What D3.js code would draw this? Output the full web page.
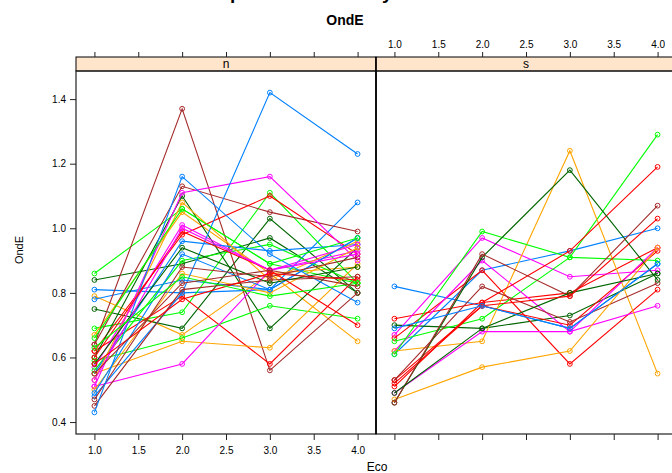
<!DOCTYPE html>
<html>
<head>
<meta charset="utf-8">
<script src="https://cdn.jsdelivr.net/npm/d3@7"></script>
<style>
  body { margin: 0; background: #fff; }
  text { font-family: "Liberation Sans", Arial, sans-serif; }
</style>
</head>
<body>
<div id="chart"></div>
<script>
// Eco levels on the x axis
const eco = [1, 2, 3, 4];
const panels = ["n", "s"];

// lattice superpose colours
const groupColors = ["#0080ff", "#ff00ff", "#006400", "#ff0000", "#ffa500", "#00ff00", "#a52a2a"];

// panel "n": one row per subject, colour index then OndE at Eco 1..4
const seriesN = [
    [5, [0.86, 1.06, 0.89, 0.83]],
    [2, [0.84, 0.89, 0.97, 0.80]],
    [0, [0.81, 0.80, 0.81, 1.08]],
    [4, [0.79, 0.67, 0.86, 0.88]],
    [0, [0.78, 0.84, 0.81, 0.97]],
    [2, [0.75, 0.69, 1.03, 0.80]],
    [5, [0.69, 0.74, 1.11, 0.83]],
    [4, [0.67, 1.05, 0.86, 0.65]],
    [6, [0.64, 1.37, 0.56, 0.80]],
    [6, [0.64, 1.13, 1.05, 0.99]],
    [3, [0.62, 0.98, 1.10, 0.92]],
    [3, [0.62, 0.79, 0.58, 0.85]],
    [2, [0.60, 1.10, 0.69, 0.94]],
    [5, [0.59, 0.66, 0.76, 0.72]],
    [1, [0.57, 1.01, 0.87, 0.93]],
    [5, [0.56, 0.90, 0.95, 0.83]],
    [0, [0.55, 0.96, 0.93, 0.95]],
    [4, [0.55, 0.65, 0.63, 0.89]],
    [4, [0.53, 1.08, 0.84, 0.96]],
    [1, [0.51, 1.11, 1.16, 0.90]],
    [1, [0.51, 0.58, 0.87, 0.95]],
    [4, [0.50, 0.86, 0.80, 0.94]],
    [0, [0.49, 0.92, 0.81, 0.97]],
    [0, [0.48, 0.80, 1.42, 1.23]],
    [6, [0.47, 0.88, 0.85, 0.91]],
    [6, [0.45, 0.81, 0.84, 0.85]],
    [0, [0.43, 1.16, 0.92, 0.77]],
    [3, [0.60, 0.99, 0.87, 0.70]],
    [5, [0.66, 1.06, 0.89, 0.97]],
    [2, [0.58, 0.94, 0.83, 0.88]],
    [1, [0.53, 1.00, 0.87, 0.92]],
    [3, [0.58, 0.78, 0.86, 0.84]],
    [5, [0.63, 0.85, 0.79, 0.83]],
    [6, [0.55, 0.83, 0.87, 0.82]]
];

// panel "s"
const seriesS = [
    [0, [0.82, 0.76, 0.69, 0.89]],
    [0, [0.61, 0.87, 0.93, 1.00]],
    [3, [0.72, 0.77, 0.80, 0.94]],
    [2, [0.70, 0.69, 0.73, 0.86]],
    [1, [0.67, 0.97, 0.85, 0.87]],
    [3, [0.66, 0.87, 0.58, 0.81]],
    [5, [0.65, 0.72, 0.91, 1.29]],
    [1, [0.62, 0.90, 0.68, 0.76]],
    [4, [0.62, 0.65, 1.24, 0.55]],
    [5, [0.61, 0.99, 0.91, 0.90]],
    [3, [0.53, 0.76, 0.70, 0.93]],
    [6, [0.53, 0.82, 0.71, 0.83]],
    [3, [0.51, 0.77, 0.93, 1.19]],
    [1, [0.49, 0.68, 0.68, 0.94]],
    [4, [0.47, 0.57, 0.62, 0.94]],
    [2, [0.46, 0.91, 1.18, 0.84]],
    [6, [0.46, 0.92, 0.79, 1.07]],
    [2, [0.49, 0.69, 0.80, 0.86]],
    [3, [0.52, 0.76, 0.79, 1.03]],
    [0, [0.69, 0.76, 0.69, 0.89]]
];

const xTicks = [1.0, 1.5, 2.0, 2.5, 3.0, 3.5, 4.0];
const yTicks = [0.4, 0.6, 0.8, 1.0, 1.2, 1.4];

const width = 672, height = 473;
const panelW = 300, panelTop = 71, panelBottom = 434, stripH = 14;
const panelLeft = [76, 376];

const svg = d3.select('#chart').append('svg')
    .attr('width', width).attr('height', height);

const x = d3.scaleLinear().domain([0.79, 4.21]).range([0, panelW]);
const y = d3.scaleLinear().domain([0.363, 1.487]).range([panelBottom, panelTop]);
const fmt = d3.format('.1f');

// main title sits above the page, only its descenders peek in
svg.append('text')
    .attr('x', 156).attr('y', -1)
    .attr('text-anchor', 'start')
    .style('font-size', '19px').style('font-weight', 'bold')
    .text('Perfiles por nivel de Eco y Sexo');

svg.append('text')
    .attr('x', 345).attr('y', 25)
    .attr('text-anchor', 'middle')
    .style('font-size', '14px').style('font-weight', 'bold')
    .text('OndE');

const data = [seriesN, seriesS];

panels.forEach((p, i) => {
    const g = svg.append('g').attr('transform', `translate(${panelLeft[i]},0)`);

    // strip
    g.append('rect')
        .attr('x', 0).attr('y', panelTop - stripH)
        .attr('width', panelW).attr('height', stripH)
        .attr('fill', '#ffe5cc').attr('stroke', '#000').attr('stroke-width', 1);
    g.append('text')
        .attr('x', panelW / 2).attr('y', panelTop - 3)
        .attr('text-anchor', 'middle')
        .style('font-size', '12px')
        .text(p);

    // subject lines
    const plot = g.append('g').attr('class', 'plot-chart');
    const line = d3.line().x((d, k) => x(eco[k])).y(d => y(d));
    data[i].forEach(([c, vals]) => {
        const col = groupColors[c];
        plot.append('path')
            .attr('d', line(vals))
            .attr('fill', 'none').attr('stroke', col).attr('stroke-width', 1.1);
        plot.selectAll(null)
            .data(vals)
            .join('circle')
            .attr('cx', (d, k) => x(eco[k]))
            .attr('cy', d => y(d))
            .attr('r', 2.4)
            .attr('fill', 'none').attr('stroke', col).attr('stroke-width', 1);
    });

    // frame
    g.append('rect')
        .attr('x', 0).attr('y', panelTop)
        .attr('width', panelW).attr('height', panelBottom - panelTop)
        .attr('fill', 'none').attr('stroke', '#222').attr('stroke-width', 1.2);

    // bottom axis: labels only on the first panel
    const bottom = g.append('g')
        .attr('transform', `translate(0,${panelBottom})`)
        .call(d3.axisBottom(x).tickValues(xTicks).tickSize(6).tickPadding(7)
            .tickFormat(i === 0 ? fmt : ''));
    // top axis: labels only on the second panel
    const top = g.append('g')
        .attr('transform', `translate(0,${panelTop - stripH})`)
        .call(d3.axisTop(x).tickValues(xTicks).tickSize(5).tickPadding(4)
            .tickFormat(i === 1 ? fmt : ''));

    [bottom, top].forEach(a => {
        a.select('.domain').remove();
        a.selectAll('.tick line').attr('stroke', '#222');
        a.selectAll('.tick text')
            .attr('fill', '#000')
            .style('font-size', '10px')
            .style('font-family', '"Liberation Sans", Arial, sans-serif');
    });

    if (i === 0) {
        const left = g.append('g')
            .call(d3.axisLeft(y).tickValues(yTicks).tickSize(6).tickPadding(4).tickFormat(fmt));
        left.select('.domain').remove();
        left.selectAll('.tick line').attr('stroke', '#222');
        left.selectAll('.tick text')
            .attr('fill', '#000')
            .style('font-size', '10px')
            .style('font-family', '"Liberation Sans", Arial, sans-serif');
    }
});

// middle divider drawn darker
svg.append('line')
    .attr('x1', panelLeft[1]).attr('x2', panelLeft[1])
    .attr('y1', panelTop - stripH).attr('y2', panelBottom)
    .attr('stroke', '#000').attr('stroke-width', 1.5);

svg.append('text')
    .attr('x', 377).attr('y', 471)
    .attr('text-anchor', 'middle')
    .style('font-size', '12px')
    .text('Eco');

svg.append('text')
    .attr('transform', 'translate(23,250) rotate(-90)')
    .attr('text-anchor', 'middle')
    .style('font-size', '11px')
    .text('OndE');
</script>
</body>
</html>
